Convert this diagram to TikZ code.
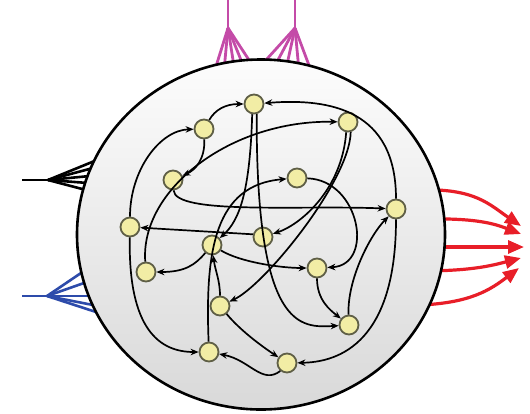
\documentclass[tikz,border=0pt]{standalone}
\usetikzlibrary{arrows.meta,calc}
\definecolor{nodefill}{RGB}{242,237,165}
\definecolor{nodeborder}{RGB}{95,95,70}
\definecolor{redout}{RGB}{232,30,40}
\definecolor{magin}{RGB}{196,75,168}
\definecolor{bluein}{RGB}{45,75,170}
\begin{document}
\begin{tikzpicture}[x=1pt,y=-1pt,
  unit/.style={circle, draw=nodeborder, fill=nodefill, line width=1.8pt, minimum size=19pt, inner sep=0pt},
  link/.style={line width=1.7pt, -{Stealth[length=8pt,width=6.5pt]}},
  fanblack/.style={line width=2.6pt, black},
  fanblue/.style={line width=2.6pt, bluein},
  fanmag/.style={line width=2.8pt, magin},
  outarrow/.style={line width=3.2pt, redout, -{Triangle[length=16pt,width=13pt]}}]
\useasboundingbox (0,0) rectangle (530,413);
% inputs: black
\draw[fanblack] (22,180) -- (48,180);
\foreach \tx/\ty in {97/160,93/168,90/176,88/183,86/190}
  \draw[fanblack] (48,180) -- ($(48,180)!1.3!(\tx,\ty)$);
% inputs: blue
\draw[fanblue] (22,296) -- (47,296);
\foreach \tx/\ty in {81/273,84/283,89/296,93/305,96/312}
  \draw[fanblue] (47,296) -- ($(47,296)!1.3!(\tx,\ty)$);
% inputs: magenta
\draw[fanmag] (228,0) -- (228,28);
\foreach \tx in {218,225,233,241,249}
  \draw[fanmag] (228,28) -- ($(228,28)!1.3!(\tx,60)$);
\draw[fanmag] (295,0) -- (295,28);
\foreach \tx in {266,278,288,298,307}
  \draw[fanmag] (295,28) -- ($(295,28)!1.3!(\tx,60)$);
% outputs: red
\draw[outarrow] (420,190) .. controls (475,188) and (490,205) .. (521,226);
\draw[outarrow] (420,219) .. controls (470,218) and (490,222) .. (521,234);
\draw[outarrow] (420,247) -- (524,247);
\draw[outarrow] (420,271) .. controls (470,271) and (490,266) .. (521,258);
\draw[outarrow] (420,305) .. controls (470,303) and (490,290) .. (519,268);
% reservoir
\fill[top color=gray!2, bottom color=gray!30] (261,234.5) ellipse [x radius=184pt, y radius=175pt];
\draw[line width=2.6pt] (261,234.5) ellipse [x radius=184pt, y radius=175pt];
% units
\node[unit] (A) at (254,104) {};
\node[unit] (B) at (204,129) {};
\node[unit] (C) at (348,122) {};
\node[unit] (D) at (173,180) {};
\node[unit] (E) at (297,178) {};
\node[unit] (F) at (396,209) {};
\node[unit] (G) at (130,227) {};
\node[unit] (H) at (212,245) {};
\node[unit] (I) at (263,237) {};
\node[unit] (J) at (146,272) {};
\node[unit] (K) at (317,268) {};
\node[unit] (L) at (220,306) {};
\node[unit] (M) at (349,325) {};
\node[unit] (N) at (209,352) {};
\node[unit] (O) at (287,363) {};
% connections
\draw[link] (G) .. controls (130,170) and (160,130) .. (B);
\draw[link] (B) .. controls (215,110) and (225,104) .. (A);
\draw[link] (B) .. controls (205,160) and (195,170) .. (D);
\draw[link] (F.north) .. controls (396,110) and (330,98) .. (A);
\draw[link] (A.-100) .. controls (250,190) and (240,220) .. (H);
\draw[link] (A.-75) .. controls (256,330) and (300,328) .. (M);
\draw[link] (C.-100) .. controls (342,190) and (300,225) .. (I);
\draw[link] (C.-75) .. controls (350,180) and (265,285) .. (L);
\draw[link] (J) .. controls (140,190) and (230,120) .. (C);
\draw[link] (N) .. controls (205,250) and (215,185) .. (E);
\draw[link] (D) .. controls (175,215) and (300,205) .. (F);
\draw[link] (I.165) -- (G);
\draw[link] (E) .. controls (360,180) and (375,265) .. (K);
\draw[link] (H) .. controls (240,262) and (280,268) .. (K);
\draw[link] (K) .. controls (317,300) and (330,310) .. (M);
\draw[link] (M) .. controls (347,280) and (370,235) .. (F);
\draw[link] (F.south) .. controls (396,330) and (350,362) .. (O);
\draw[link] (L) .. controls (220,280) and (215,270) .. (H);
\draw[link] (H) .. controls (195,265) and (185,272) .. (J);
\draw[link] (G) .. controls (128,330) and (160,352) .. (N);
\draw[link] (L) .. controls (240,330) and (260,345) .. (O);
\draw[link] (O.230) .. controls (262,385) and (250,360) .. (N);
\end{tikzpicture}
\end{document}
